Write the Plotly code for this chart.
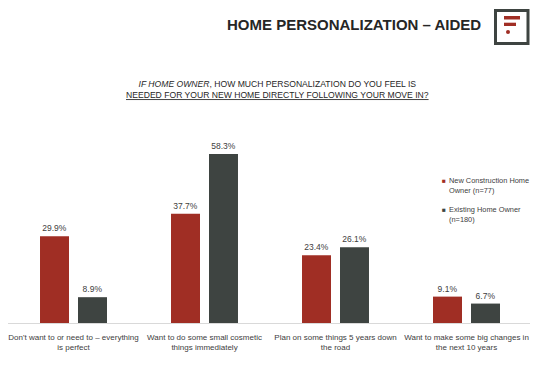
import plotly.graph_objects as go

categories = [
    "Don't want to or need to \u2013 everything<br>is perfect",
    "Want to do some small cosmetic<br>things immediately",
    "Plan on some things 5 years down<br>the road",
    "Want to make some big changes in<br>the next 10 years",
]
new_construction = [29.9, 37.7, 23.4, 9.1]
existing = [8.9, 58.3, 26.1, 6.7]
series_names = ["New Construction Home<br>Owner (n=77)", "Existing Home Owner<br>(n=180)"]

RED = "#A02E24"
DARK = "#3E4441"
TXT = "#404040"
FONT = "Liberation Sans, Arial, sans-serif"

# the page body adds an 8px margin, so the figure is drawn 8px in from the window edge
OFF = 8
W, H = 538 - OFF, 366 - 2 * OFF
L, R, T, B = 0, 6, 130 - OFF, 35
PW, PH = W - L - R, H - T - B


def px(x):
    return (x - OFF - L) / PW


def py(y):
    return (H - B - (y - OFF)) / PH


fig = go.Figure()
for name, vals, col in [(series_names[0], new_construction, RED), (series_names[1], existing, DARK)]:
    fig.add_trace(go.Bar(
        x=categories, y=vals, name=name, marker_color=col, marker_line_width=0,
        texttemplate="%{y:.1f}%", textposition="outside",
        textfont=dict(size=8.5, color=TXT, family=FONT), cliponaxis=False,
        showlegend=False,
    ))

annotations = [
    dict(text="<b>HOME PERSONALIZATION \u2013 AIDED</b>", x=px(354), y=py(24),
         font=dict(size=15, color="#262626", family=FONT)),
    dict(text="<i>IF HOME OWNER</i>, HOW MUCH PERSONALIZATION DO YOU FEEL IS<br>"
              "<u>NEEDED FOR YOUR NEW HOME DIRECTLY FOLLOWING YOUR MOVE IN?</u>",
         x=px(277), y=py(90), font=dict(size=8.6, color="#262626", family=FONT)),
    dict(text="\u25a0", x=px(444), y=py(180), font=dict(size=6.5, color=RED, family=FONT)),
    dict(text="\u25a0", x=px(444), y=py(209.5), font=dict(size=6.5, color=DARK, family=FONT)),
    dict(text=series_names[0], x=px(447), y=py(185.5), xanchor="left", align="left",
         font=dict(size=7.4, color=TXT, family=FONT)),
    dict(text=series_names[1], x=px(447), y=py(214.5), xanchor="left", align="left",
         font=dict(size=7.4, color=TXT, family=FONT)),
]
for a in annotations:
    a.setdefault("xanchor", "center")
    a.setdefault("yanchor", "middle")
    a.update(xref="paper", yref="paper", showarrow=False)

shapes = [
    dict(type="rect", x0=px(495.5), x1=px(528), y0=py(10.5), y1=py(43.5),
         line=dict(color=DARK, width=3), fillcolor="white"),
    dict(type="rect", x0=px(504), x1=px(520), y0=py(16), y1=py(19.5),
         line=dict(width=0), fillcolor=RED),
    dict(type="rect", x0=px(504), x1=px(516), y0=py(22.7), y1=py(26),
         line=dict(width=0), fillcolor=RED),
    dict(type="circle", x0=px(506), x1=px(510), y0=py(30), y1=py(34),
         line=dict(width=0), fillcolor=RED),
]
for s in shapes:
    s.update(xref="paper", yref="paper")

fig.update_layout(
    width=W, height=H,
    margin=dict(l=L, r=R, t=T, b=B, autoexpand=False),
    paper_bgcolor="white", plot_bgcolor="white",
    barmode="group", bargap=0.42, bargroupgap=0.237,
    font=dict(family=FONT, color=TXT),
    annotations=annotations, shapes=shapes,
    xaxis=dict(showline=True, linecolor="#D9D9D9", linewidth=1, ticks="",
               tickangle=0, automargin=False, ticklabelstandoff=6,
               tickfont=dict(size=8, color=TXT, family=FONT), showgrid=False,
               zeroline=False),
    yaxis=dict(range=[0, PH / 2.9], visible=False, showgrid=False, zeroline=False),
)

fig.write_html("out.html")
